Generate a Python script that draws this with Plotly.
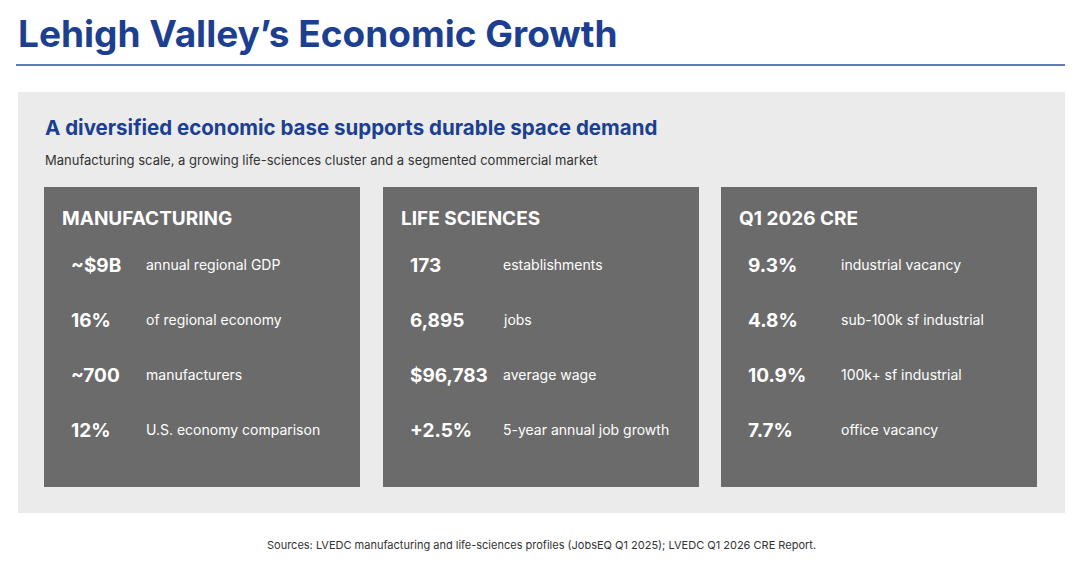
import plotly.graph_objects as go

title = "Lehigh Valley’s Economic Growth"
subtitle = "A diversified economic base supports durable space demand"
caption = "Manufacturing scale, a growing life-sciences cluster and a segmented commercial market"
source = "Sources: LVEDC manufacturing and life-sciences profiles (JobsEQ Q1 2025); LVEDC Q1 2026 CRE Report."

card_titles = ["MANUFACTURING", "LIFE SCIENCES", "Q1 2026 CRE"]
card_values = [
    ["~$9B", "16%", "~700", "12%"],
    ["173", "6,895", "$96,783", "+2.5%"],
    ["9.3%", "4.8%", "10.9%", "7.7%"],
]
card_labels = [
    ["annual regional GDP", "of regional economy", "manufacturers", "U.S. economy comparison"],
    ["establishments", "jobs", "average wage", "5-year annual job growth"],
    ["industrial vacancy", "sub-100k sf industrial", "100k+ sf industrial", "office vacancy"],
]

card_x0 = [44, 383, 721]
card_w = 316
label_off = [100, 118, 118]
row_y = [265, 320, 375, 430]

F = "Inter, Roboto, sans-serif"
fig = go.Figure()
shapes = [
    dict(type="line", x0=16, x1=1065, y0=65, y1=65, line=dict(color="#2a4f9c", width=1.5)),
    dict(type="rect", x0=18, x1=1065, y0=92, y1=513, fillcolor="#ebebeb", line=dict(width=0), layer="below"),
]
ann = [
    dict(x=16, y=33, text=f"<b>{title}</b>", font=dict(size=37, color="#1d3f91", family=F)),
    dict(x=43, y=127, text=f"<b>{subtitle}</b>", font=dict(size=20.5, color="#1d3f91", family=F)),
    dict(x=43, y=160, text=caption, font=dict(size=13, color="#333", family=F)),
    dict(x=541, y=545, text=source, font=dict(size=11, color="#333", family=F), xanchor="center"),
]
for i, x0 in enumerate(card_x0):
    shapes.append(dict(type="rect", x0=x0, x1=x0 + card_w, y0=187, y1=487,
                       fillcolor="#6b6b6b", line=dict(width=0), layer="below"))
    ann.append(dict(x=x0 + 16, y=218, text=f"<b>{card_titles[i]}</b>",
                    font=dict(size=19, color="white", family=F)))
    for j, y in enumerate(row_y):
        ann.append(dict(x=x0 + 25, y=y, text=f"<b>{card_values[i][j]}</b>",
                        font=dict(size=19, color="white", family=F)))
        ann.append(dict(x=x0 + label_off[i], y=y - 1, text=card_labels[i][j],
                        font=dict(size=14, color="white", family=F)))
for a in ann:
    a.setdefault("xanchor", "left")
    a.update(xref="x", yref="y", showarrow=False, yanchor="middle")

fig.update_layout(
    width=1080, height=588, margin=dict(l=0, r=0, t=0, b=0),
    paper_bgcolor="white", plot_bgcolor="white",
    xaxis=dict(range=[8, 1088], visible=False, fixedrange=True),
    yaxis=dict(range=[596, 8], visible=False, fixedrange=True),
    shapes=shapes, annotations=ann, showlegend=False,
)
fig.write_html("out.html")
